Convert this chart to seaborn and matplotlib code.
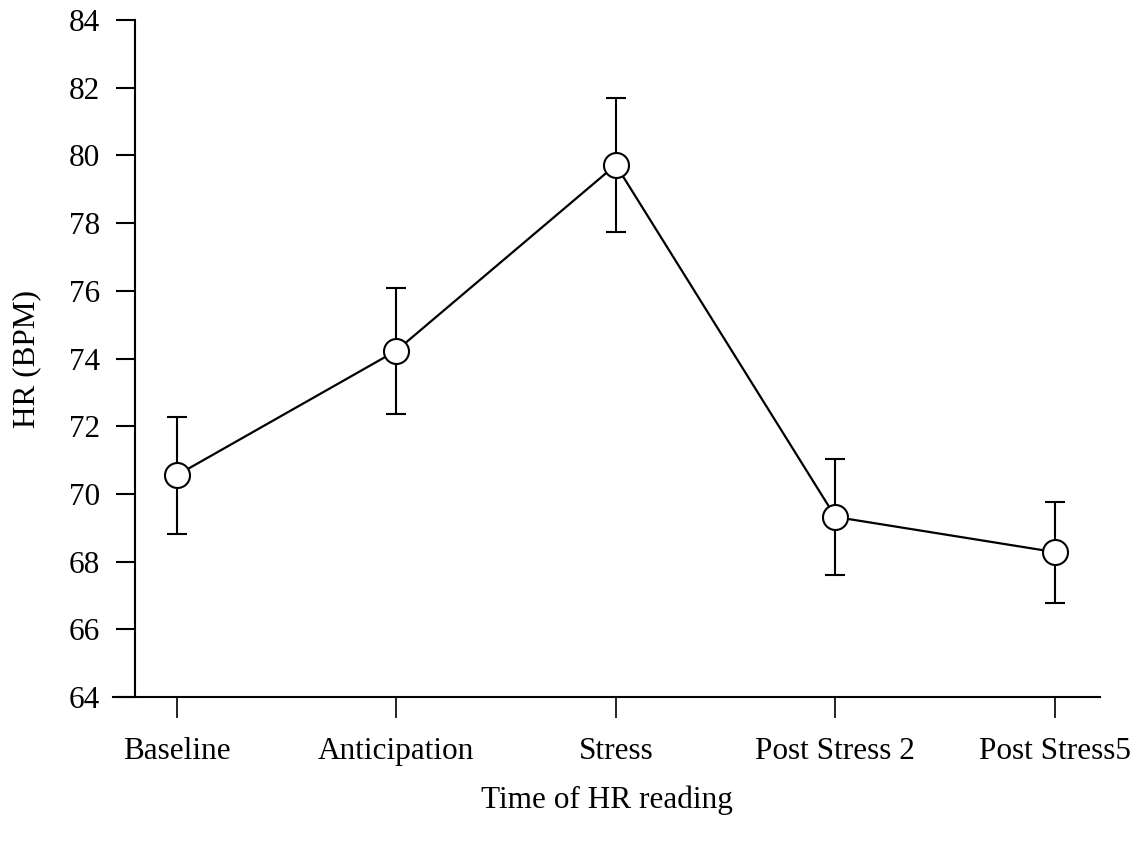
import matplotlib
matplotlib.use("Agg")
import matplotlib.pyplot as plt
import seaborn as sns
import numpy as np
import pandas as pd

categories = ["Baseline", "Anticipation", "Stress", "Post Stress 2", "Post Stress5"]
hr_mean = [70.55, 74.23, 79.72, 69.32, 68.28]
hr_err = [1.72, 1.86, 1.98, 1.72, 1.49]
y_ticks = [64, 66, 68, 70, 72, 74, 76, 78, 80, 82, 84]

sns.set_theme(style="ticks")
plt.rcParams['font.family'] = ['Liberation Serif', 'DejaVu Serif']

W, H = 1146, 848
fig = plt.figure(figsize=(W / 100, H / 100), dpi=100)
ax = fig.add_axes([113 / W, 1 - 697 / H, (1100 - 113) / W, (697 - 20) / H])

df = pd.DataFrame({"pos": np.arange(len(categories)), "hr": hr_mean})

ax.errorbar(df["pos"], df["hr"], yerr=hr_err, fmt="none", ecolor="black",
            elinewidth=1.5, capsize=7.5, capthick=1.5, zorder=2)
sns.lineplot(data=df, x="pos", y="hr", ax=ax, color="black", linewidth=1.6,
             marker="o", markersize=18, markerfacecolor="white",
             markeredgecolor="black", markeredgewidth=1.5, zorder=3)

ax.set_xlim(-0.29, 4.205)
ax.set_ylim(64, 84)
ax.set_yticks(y_ticks)
ax.set_xticks(df["pos"])
ax.set_xticklabels(categories)

ax.spines["left"].set_position(("data", -0.19))
ax.spines["right"].set_visible(False)
ax.spines["top"].set_visible(False)
for s in ["left", "bottom"]:
    ax.spines[s].set_linewidth(1.5)
    ax.spines[s].set_color("black")

ax.tick_params(axis="y", length=14, width=1.5, direction="out", pad=11,
               labelsize=22.5, colors="black")
ax.tick_params(axis="x", length=15, width=1.2, direction="out", pad=14,
               labelsize=22.5, colors="black")

ax.set_xlabel("Time of HR reading", fontsize=22.5, labelpad=14, color="black")
ax.set_ylabel("HR (BPM)", fontsize=22.5, labelpad=20, color="black")
ax.grid(False)

fig.savefig("out.png", dpi=100, facecolor="white")
